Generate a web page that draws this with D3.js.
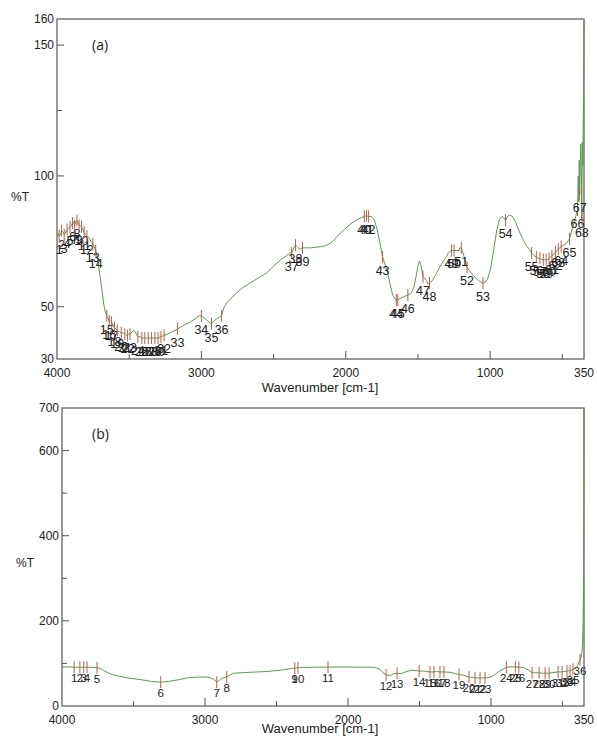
<!DOCTYPE html>
<html><head><meta charset="utf-8">
<script src="https://cdn.jsdelivr.net/npm/d3@7"></script>
<style>
body{margin:0;background:#fff}
svg{display:block}
text{font-family:"Liberation Sans",Arial,sans-serif;fill:#222}
</style>
</head><body>
<svg id="c" width="597" height="738"></svg>
<script>
// ---------- axis ticks ----------
const xTicksMajor = [3000, 2000, 1000];
const xTicksMinor = [3500, 2500, 1500, 500];
const xTickLabels = [4000, 3000, 2000, 1000, 350];
const aYTicksMajor = [50, 100, 150];
const aYTicksMinor = [125];
const aYTickLabels = [30, 50, 100, 150, 160];
const bYTicksMajor = [200, 400, 600];
const bYTicksMinor = [100, 300, 500];
const bYTickLabels = [0, 200, 400, 600, 700];

// ---------- spectrum (a) ----------
const specA_wn = [4000,3993,3976,3958,3940,3920,3901,3885,3870,3855,3838,3820,3802,3780,3765,3742,3722,3712,3700,3688,3675,3665,3646,3630,3612,3592,3570,3542,3520,3503,3470,3455,3425,3380,3235,3200,3120,3080,3040,3015,2965,2945,2915,2890,2875,2845,2825,2780,2720,2650,2590,2547,2500,2450,2410,2390,2360,2338,2320,2280,2240,2200,2160,2130,2090,2050,2010,1970,1930,1895,1825,1805,1785,1765,1730,1710,1695,1675,1660,1630,1610,1590,1550,1530,1515,1500,1490,1480,1440,1430,1400,1370,1340,1310,1290,1230,1215,1210,1190,1175,1140,1110,1080,1030,1015,995,975,955,935,915,905,880,865,845,825,800,775,745,730,695,668,645,622,602,582,560,538,518,490,475,440,430,415,405,390,386,383,376,372,368,362,358,355,352,350];
const specA_T  = [76.5,78,77.5,78.5,78.5,80,81,82.5,82.5,82,81,79.5,77.5,76.5,75,73,69,65.5,61,56,50.5,48,45.5,44.5,43,41.5,40.5,40,39,39.5,41,40,38.5,38,39.5,40.5,43,44,45.5,46.5,45,44,44.5,45.5,46,49.5,51.5,54,57,59.5,61.5,63,65.5,68,69.5,70.5,72.5,73,72,72.5,72.5,72.8,73,73.5,75,77.5,79.5,81.5,83,84,84.5,83.5,80,75,66.5,63,59,54.5,53,53,53.5,54,55,57,61,65.5,67.5,66,60,58.5,60,63,66,68.5,70.5,71.5,71.5,72.5,71,68,63.5,61.5,60,59.5,61,65,72,79,83.5,84.5,84,84.5,85,84.5,82.5,79,76,73,72,69.5,68.5,68,68,68,69,70,71.5,72.5,73.5,74,78,80,83,85,100,90,106,104,112,99,113,104,122,140,160];
const peaksA_wn = [3985,3968,3950,3930,3910,3893,3878,3862,3847,3830,3812,3793,3752,3732,3655,3638,3622,3602,3583,3555,3530,3512,3494,3440,3412,3392,3368,3345,3322,3300,3280,3258,3165,3000,2930,2860,2375,2348,2300,1872,1857,1842,1745,1650,1640,1570,1465,1420,1268,1250,1200,1160,1050,893,713,680,655,632,612,592,572,548,528,508,450,395,380,365];
const peaksA_T  = [77,79,77.5,79.5,80.5,82,81,83,81,80.5,78.5,77,74,71.5,46.5,44.5,44,42,41,40,39.5,39,39.5,38.5,38,38,38,38,38,38,38.5,39,41.5,46.5,43.5,46.5,70.5,73.5,72.5,84.5,84.8,84.5,69,52.5,52.5,54.5,61.5,59,71.5,71.5,72.5,65,59,83,70.5,69,68.5,68,68,68.5,69.5,71,72,73,76,87,93,83.5];

// ---------- spectrum (b) ----------
const specB_wn = [4000,3950,3790,3730,3700,3660,3600,3545,3450,3380,3250,3180,3126,3050,2986,2950,2930,2900,2880,2820,2800,2700,2566,2450,2400,2330,2250,2000,1900,1818,1780,1755,1700,1680,1630,1600,1560,1520,1470,1380,1280,1250,1190,1130,1010,980,950,923,860,780,740,700,640,560,490,400,395,385,370,365,360,356,353,351,350];
const specB_T  = [91.5,92,91,88,82,75,70,66,62,58,58,62,66,68,68,65,60,60,66,74,77,79,81,85,88,90.5,91,91.5,91,91,87,78,72,76,76,80,84,83,82,81,79,76,72,67,67,72,80,85,92,91,85,78,77,79,81,90,96,104,115,125,150,200,320,500,700];
const peaksB_wn = [3915,3875,3848,3825,3755,3310,2918,2848,2372,2350,2140,1734,1657,1503,1427,1399,1357,1329,1224,1154,1112,1077,1042,893,830,806,713,664,622,594,531,503,469,448,427,378];
const peaksB_T  = [91,91,91,91,90,56,56,68,89,90,91.5,73,77,82,80,80,80,80,74,68,66,66,66,91,92,91,78,78,77,77,80,80,82,83,86,108];

const svg = d3.select("#c");
svg.append("rect").attr("width",597).attr("height",738).attr("fill","#fff");

const LINE = "#5e9a54", MARK = "#b5604f", FRAME = "#555";

function panel(o) {
  const g = svg.append("g");
  const x = d3.scaleLinear().domain([4000, 350]).range([o.left, o.right]);
  const y = d3.scaleLinear().domain(o.yDomain).range([o.bottom, o.top]);
  const id = "clip" + o.name;
  g.append("clipPath").attr("id", id).append("rect")
    .attr("x", o.left).attr("y", o.top - 1).attr("width", o.right - o.left + 1).attr("height", o.bottom - o.top + 2);

  g.append("rect").attr("x", o.left).attr("y", o.top)
    .attr("width", o.right - o.left).attr("height", o.bottom - o.top)
    .attr("fill", "none").attr("stroke", FRAME).attr("stroke-width", 1.2);

  xTicksMajor.forEach(v => g.append("line").attr("x1", x(v)).attr("x2", x(v))
    .attr("y1", o.bottom).attr("y2", o.bottom - 8).attr("stroke", FRAME));
  xTicksMinor.forEach(v => g.append("line").attr("x1", x(v)).attr("x2", x(v))
    .attr("y1", o.bottom).attr("y2", o.bottom - 5).attr("stroke", FRAME));
  xTickLabels.forEach(v => g.append("text").attr("x", x(v)).attr("y", o.bottom + 18)
    .attr("text-anchor", "middle").attr("font-size", 12).text(v));

  o.yMajor.forEach(v => g.append("line").attr("x1", o.left).attr("x2", o.left + 7)
    .attr("y1", y(v)).attr("y2", y(v)).attr("stroke", FRAME));
  o.yMinor.forEach(v => g.append("line").attr("x1", o.left).attr("x2", o.left + 5)
    .attr("y1", y(v)).attr("y2", y(v)).attr("stroke", FRAME));
  o.yLabels.forEach(v => g.append("text").attr("x", o.left - 3).attr("y", y(v) + 4)
    .attr("text-anchor", "end").attr("font-size", 12).text(v));

  g.append("text").attr("x", 320).attr("y", o.titleY).attr("text-anchor", "middle")
    .attr("font-size", 13).text("Wavenumber [cm-1]");
  g.append("text").attr("x", o.pctX).attr("y", o.pctY).attr("font-size", 12).text("%T");
  g.append("text").attr("x", 92).attr("y", o.top + 31).attr("font-size", 14)
    .style("font-family", "'Open Sans',sans-serif").text(o.tag);

  const pts = o.wn.map((w, i) => [w, o.T[i]])
    .concat(o.pwn.map((w, i) => [w, o.pT[i]]))
    .sort((a, b) => b[0] - a[0]);
  g.append("path").datum(pts).attr("clip-path", `url(#${id})`)
    .attr("fill", "none").attr("stroke", LINE).attr("stroke-width", 1)
    .attr("d", d3.line().x(d => x(d[0])).y(d => y(d[1])));

  o.pwn.forEach((w, i) => {
    const cx = x(w), cy = y(o.pT[i]);
    g.append("line").attr("x1", cx).attr("x2", cx).attr("y1", cy - 6).attr("y2", cy + 6)
      .attr("stroke", MARK).attr("stroke-width", 1);
    g.append("text").attr("x", cx).attr("y", cy + o.lblDy).attr("text-anchor", "middle")
      .attr("font-size", o.lblSize).text(i + 1);
  });
}

panel({name:"a", left:57, right:584, top:19, bottom:359, yDomain:[30,160],
  yMajor:aYTicksMajor, yMinor:aYTicksMinor, yLabels:aYTickLabels,
  wn:specA_wn, T:specA_T, pwn:peaksA_wn, pT:peaksA_T, lblDy:18, lblSize:12.5,
  pctX:11, pctY:201, tag:"(a)", titleY:392});
panel({name:"b", left:62, right:584, top:408, bottom:706, yDomain:[0,700],
  yMajor:bYTicksMajor, yMinor:bYTicksMinor, yLabels:bYTickLabels,
  wn:specB_wn, T:specB_T, pwn:peaksB_wn, pT:peaksB_T, lblDy:15, lblSize:11.5,
  pctX:16, pctY:567, tag:"(b)", titleY:733});
</script>
</body></html>
